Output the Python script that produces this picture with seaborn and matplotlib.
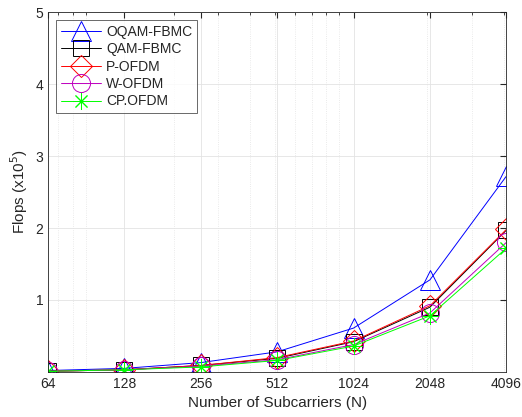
import numpy as np
import pandas as pd
import matplotlib
matplotlib.use('Agg')
import matplotlib.pyplot as plt
import seaborn as sns
from matplotlib.ticker import FixedLocator, LogLocator, NullFormatter

# data (Flops in units of 1e5)
subcarriers = [64, 128, 256, 512, 1024, 2048, 4096]
oqam_fbmc = [0.02, 0.05, 0.13, 0.28, 0.61, 1.28, 2.72]
qam_fbmc = [0.01, 0.03, 0.09, 0.19, 0.42, 0.90, 1.97]
p_ofdm = [0.01, 0.03, 0.09, 0.20, 0.43, 0.92, 1.98]
w_ofdm = [0.01, 0.03, 0.08, 0.17, 0.38, 0.82, 1.80]
cp_ofdm = [0.01, 0.03, 0.07, 0.16, 0.36, 0.78, 1.72]

series = [
    ('OQAM-FBMC', oqam_fbmc, 'b', '^'),
    ('QAM-FBMC', qam_fbmc, 'k', 's'),
    ('P-OFDM', p_ofdm, 'r', 'D'),
    ('W-OFDM', w_ofdm, 'm', 'o'),
    ('CP.OFDM', cp_ofdm, '#00ff00', (8, 2, 0)),
]

sns.set_style('white')
plt.rcParams['font.family'] = ['Liberation Sans', 'DejaVu Sans']

fig = plt.figure(figsize=(5.22, 4.17), dpi=100)
ax = fig.add_axes([0.092, 0.108, 0.878, 0.863])

marker_sizes = {'^': 14, 's': 11, 'D': 11, 'o': 13}
for name, vals, color, mk in series:
    df = pd.DataFrame({'N': subcarriers, 'flops': vals})
    sns.lineplot(data=df, x='N', y='flops', ax=ax, color=color, marker=mk,
                 markersize=marker_sizes.get(mk, 12), markerfacecolor='none',
                 markeredgecolor=color, markeredgewidth=0.7,
                 linewidth=0.7, label=name)

ax.set_xscale('log')
ax.set_xlim(64, 4096)
ax.set_ylim(0, 5)
ax.xaxis.set_major_locator(FixedLocator(subcarriers))
ax.set_xticklabels([str(s) for s in subcarriers])
ax.xaxis.set_minor_locator(LogLocator(base=10, subs=np.arange(2, 10)))
ax.xaxis.set_minor_formatter(NullFormatter())
ax.set_yticks([1, 2, 3, 4, 5])

ax.grid(True, which='major', color='#e3e3e3', linewidth=0.6)
ax.grid(True, which='minor', axis='x', color='#e3e3e3', linestyle=':', linewidth=0.6)
ax.set_axisbelow(True)
for sp in ax.spines.values():
    sp.set_color('#262626')
    sp.set_linewidth(0.6)
ax.tick_params(axis='both', which='major', direction='in', length=4, labelsize=10,
               colors='#262626', top=True, right=True)
ax.tick_params(axis='x', which='minor', direction='in', length=2, top=True)

ax.set_xlabel('Number of Subcarriers (N)', fontsize=11, color='#262626')
ax.set_ylabel('Flops (x10$^5$)', fontsize=11, color='#262626')

leg = ax.legend(loc='upper left', fontsize=10, frameon=True, fancybox=False,
                edgecolor='#262626', handlelength=2.9, borderpad=0.3,
                labelspacing=0.25, handletextpad=0.4, borderaxespad=0.6)
leg.get_frame().set_linewidth(0.6)

fig.savefig('out.png', dpi=100)
